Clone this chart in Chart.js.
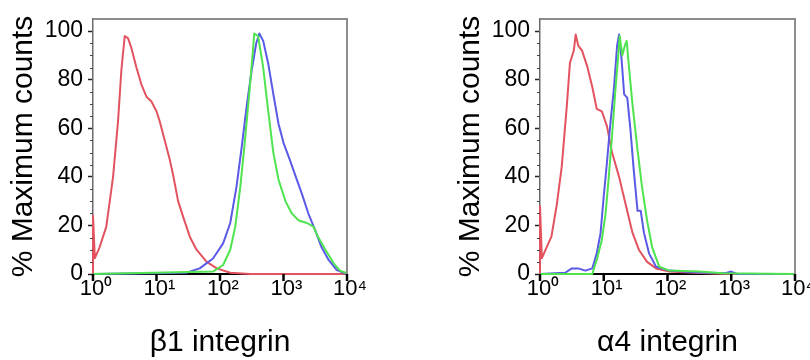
<!DOCTYPE html>
<html>
<head>
<meta charset="utf-8">
<script src="https://cdn.jsdelivr.net/npm/chart.js@4.4.1/dist/chart.umd.min.js"></script>
<style>
  html, body { margin: 0; padding: 0; background: #fff; }
  #wrap { position: relative; width: 810px; height: 360px; overflow: hidden; }
  .panel { position: absolute; top: 0; width: 405px; height: 360px; }
</style>
</head>
<body>
<div id="wrap">
  <div class="panel" style="left:0"><canvas id="c1" width="405" height="360"></canvas></div>
  <div class="panel" style="left:405px"><canvas id="c2" width="405" height="360"></canvas></div>
</div>
<script>
// ---- tick labels / axes ----
const xTicks = [1, 10, 100, 1000, 10000];
const xTickLabels = ['10\u2070', '10\u00B9', '10\u00B2', '10\u00B3', '10\u2074'];
const yTicks = [0, 20, 40, 60, 80, 100];
const yMinorTicks = [5,10,15,25,30,35,45,50,55,65,70,75,85,90,95];
const yTitle = '% Maximum counts';
const panelTitles = ['\u03B21 integrin', '\u03B14 integrin'];

// ---- panel 1: beta1 integrin ----
const b1RedX = [1,1,1.07,1.27,1.62,2.07,2.48,2.8,3.16,3.57,4.03,4.83,5.79,6.95,8.32,10,11.2,13.5,16.2,18.2,21.9,26.3,33.9,42.7,61.7,89.1,145,300,10000];
const b1RedY = [0,24,6.5,11,19.5,40,63,84,98,97,93,85,78,73,71,67,63,55,47,41,30,23.5,15,10,5,2.3,0.5,0,0];
const b1BlueX = [1,29.5,47.9,77.6,112,145,182,219,263,316,372,417,479,575,692,832,1000,1259,1514,1950,2455,3162,3981,5129,6918,9333,10000];
const b1BlueY = [0,0.5,2.3,6.4,12.6,21,36,52,69,84,95,99,96,86.6,74,62,54,47,41,33,25,18,11,5.8,1.6,0.3,0];
const b1GreenX = [1,77.6,112,145,174,209,245,295,347,398,479,575,692,832,1072,1349,1738,2344,2951,3548,4571,6166,7762,10000];
const b1GreenY = [0,1,3.7,10,19.5,36,54,77,99,98,85,67,50,39,30,25,22,21,19.5,15,10,4.4,1.4,0.3];

// ---- panel 2: alpha4 integrin ----
const a4RedX = [1,1,1.07,1.27,1.51,1.82,2.19,2.63,2.95,3.39,3.63,3.98,4.57,5.5,6.61,7.76,9.33,11.2,13.5,17.4,21.9,28.2,35.5,47.9,66.1,107,219,398,1000,10000];
const a4RedY = [0,28,6.5,11,15.4,28,44,69,87,92,98.6,94,92,85.5,77,68,67,61,50,40,29,17,10,5,2.3,1,0.6,0.3,0,0];
const a4BlueX = [1,2.48,3.16,3.98,5.13,6.61,7.76,8.91,10,11.2,12.6,14.5,16.2,17.4,19.1,20.9,23.4,26.3,29.5,33.9,38,42.7,51.3,66.1,107,219,398,813,1000,1230,10000];
const a4BlueY = [0,0.5,2.3,2.3,1.4,2.3,8.5,16.8,32,45.7,61,77,94,98.6,88,74,72.5,59,43,26,26,17,8.5,3,1.4,0.8,0.5,0.3,1,0,0];
const a4GreenX = [1,6.61,7.76,9.33,10.7,12,13.5,15.1,17,17.8,19.5,21.4,22.9,24.5,28.2,33.9,39.8,47.9,57.5,74.1,107,316,741,10000];
const a4GreenY = [0,0,5.8,14,25,40,57,74.5,91,98,90,94,96,87,70,51,36,22,11,3,1.4,1,0.3,0];

const RED = '#e2535f', BLUE = '#5a5ae6', GREEN = '#4fe34f';
const FONT = "'Liberation Sans', Arial, sans-serif";

function pts(xs, ys) { return xs.map((x, i) => ({x: x, y: ys[i]})); }
function ds(xs, ys, color) {
  return { data: pts(xs, ys), borderColor: color, borderWidth: 2, pointRadius: 0,
           fill: false, tension: 0, clip: false, borderJoinStyle: 'round' };
}

const framePlugin = {
  id: 'frame',
  afterDraw(chart) {
    const {ctx, chartArea: a} = chart;
    const xs = chart.scales.x, ys = chart.scales.y;
    ctx.save();
    ctx.lineCap = 'butt';
    // top & right border
    ctx.strokeStyle = '#8c8c8c'; ctx.lineWidth = 2;
    ctx.beginPath();
    ctx.moveTo(a.left, a.top); ctx.lineTo(a.right, a.top); ctx.lineTo(a.right, a.bottom);
    ctx.stroke();
    // x major ticks (downward)
    ctx.strokeStyle = '#000'; ctx.lineWidth = 2.5;
    xTicks.forEach(v => {
      const px = xs.getPixelForValue(v);
      ctx.beginPath(); ctx.moveTo(px, a.bottom); ctx.lineTo(px, a.bottom + 7); ctx.stroke();
    });
    // y minor ticks
    ctx.strokeStyle = '#444'; ctx.lineWidth = 1;
    yMinorTicks.forEach(v => {
      const py = Math.round(ys.getPixelForValue(v)) + 0.5;
      ctx.beginPath(); ctx.moveTo(a.left - 3, py); ctx.lineTo(a.left, py); ctx.stroke();
    });
    ctx.restore();
  }
};

function makeChart(id, datasets, title, padLeft, padRight) {
  return new Chart(document.getElementById(id), {
    type: 'line',
    data: { datasets: datasets },
    plugins: [framePlugin],
    options: {
      responsive: false, animation: false, devicePixelRatio: 1,
      layout: { padding: { left: padLeft, right: padRight, top: 19, bottom: 0 } },
      plugins: { legend: { display: false }, tooltip: { enabled: false } },
      scales: {
        x: {
          type: 'logarithmic', min: 1, max: 10000,
          afterBuildTicks: s => { s.ticks = xTicks.map(v => ({value: v})); },
          afterFit: s => { s.height = 86; s.paddingLeft = 0; s.paddingRight = 0; },
          grid: { display: false, drawTicks: false },
          border: { display: true, color: '#000', width: 2 },
          ticks: {
            autoSkip: false, maxRotation: 0, padding: 2, labelOffset: 3, color: '#000',
            font: { family: FONT, size: 22 },
            callback: (v) => { const i = xTicks.indexOf(v); return i >= 0 ? xTickLabels[i] : ''; }
          },
          title: { display: true, text: title, color: '#000',
                   font: { family: FONT, size: 30, lineHeight: 1.0 }, padding: { top: 0, bottom: 2 } }
        },
        y: {
          min: 0, max: 105,
          afterBuildTicks: s => { s.ticks = yTicks.map(v => ({value: v})); },
          afterFit: s => { s.width = 93; s.paddingTop = 0; s.paddingBottom = 0; },
          grid: { display: true, drawOnChartArea: false, drawTicks: true, tickLength: 5,
                  tickColor: '#222', tickWidth: 1.5 },
          border: { display: true, color: '#6a6a6a', width: 1.5 },
          ticks: { padding: 5, color: '#000', font: { family: FONT, size: 23 } },
          title: { display: true, text: yTitle, color: '#000',
                   font: { family: FONT, size: 30, lineHeight: 1.2 }, padding: { top: 6, bottom: 0 } }
        }
      }
    }
  });
}

makeChart('c1', [
  ds(b1GreenX, b1GreenY, GREEN),
  ds(b1BlueX, b1BlueY, BLUE),
  ds(b1RedX, b1RedY, RED)
], panelTitles[0], 0, 58);

makeChart('c2', [
  ds(a4GreenX, a4GreenY, GREEN),
  ds(a4BlueX, a4BlueY, BLUE),
  ds(a4RedX, a4RedY, RED)
], panelTitles[1], 42, 15);
</script>
</body>
</html>
